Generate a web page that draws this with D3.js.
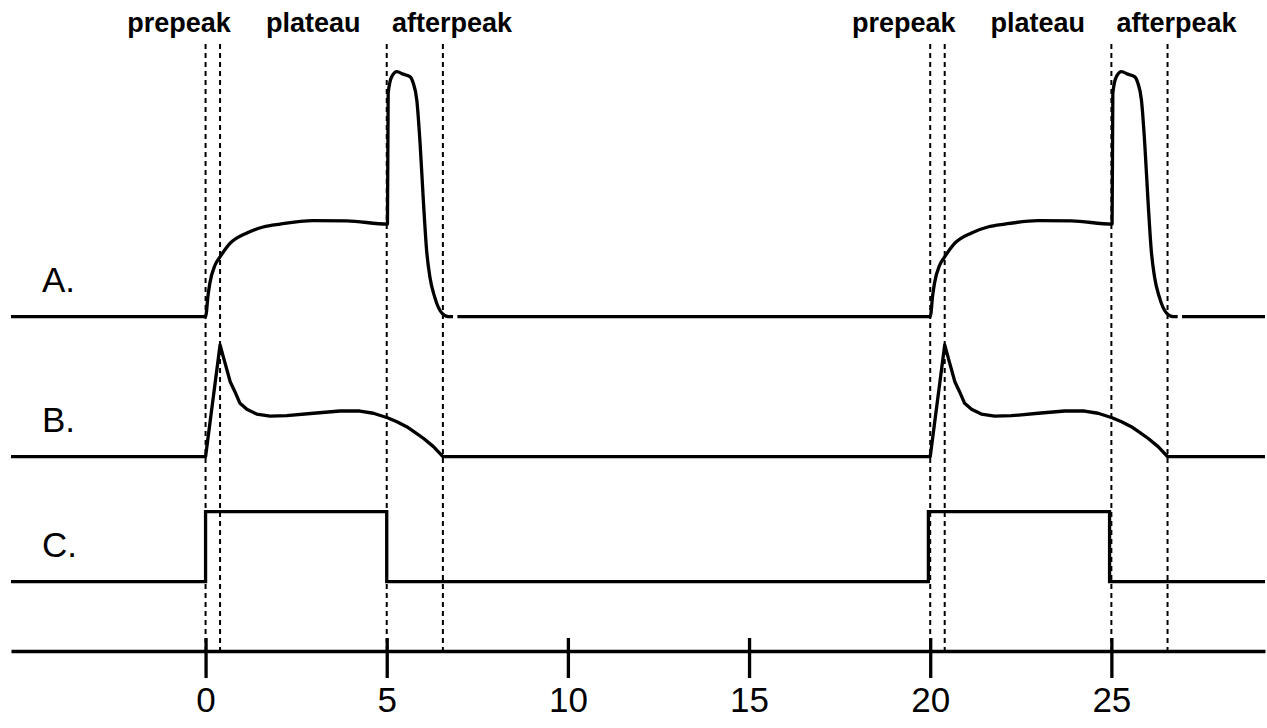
<!DOCTYPE html>
<html>
<head>
<meta charset="utf-8">
<script src="https://cdn.jsdelivr.net/npm/d3@7"></script>
<style>
body { margin: 0; background: #fff; }
text { font-family: "Liberation Sans", Arial, Helvetica, sans-serif; fill: #000; }
</style>
</head>
<body>
<svg id="chart" width="1267" height="728"></svg>
<script>
// time window and axis ticks
var timeDomain = [-5.37, 29.24];
var tickValues = [0, 5, 10, 15, 20, 25];

// each pulse starts at these times
var onsets = [0, 20];

// phase boundaries after onset (dashed lines) and the phase labels
var phaseBounds = [0, 0.4, 5, 6.55];
var phaseNames = ['prepeak', 'plateau', 'afterpeak'];
var phaseLabelAt = [-0.73, 2.97, 6.8];

// trace A after onset: [time, level]; null = small break in the line
var shapeA = [
  [0, 0], [0.07, 0.089], [0.12, 0.138], [0.26, 0.21], [0.4, 0.244],
  [0.68, 0.30], [1.14, 0.342], [1.59, 0.366], [2.06, 0.378], [2.97, 0.392],
  [3.9, 0.391], [5.02, 0.378], [5.04, 0.912], [5.14, 0.98], [5.28, 1.0],
  [5.45, 0.99], [5.64, 0.98], [5.73, 0.954], [5.83, 0.884], [5.92, 0.709],
  [6.01, 0.476], [6.1, 0.272], [6.19, 0.163], [6.32, 0.082], [6.52, 0.015],
  [6.7, 0], [6.83, 0], null, [6.95, 0]
];

// trace B after onset
var shapeB = [
  [0, 0], [0.4, 1.0], [0.54, 0.836], [0.68, 0.671], [0.81, 0.582],
  [0.95, 0.478], [1.14, 0.424], [1.41, 0.382], [1.78, 0.364], [2.24, 0.367],
  [2.98, 0.389], [3.71, 0.409], [4.26, 0.409], [4.63, 0.389], [5.02, 0.349],
  [5.28, 0.313], [5.55, 0.269], [5.78, 0.218], [6.01, 0.165], [6.29, 0.09],
  [6.55, 0]
];

// trace C: on / off edges
var edgesC = [[0, 5], [19.95, 24.95]];

var svg = d3.select('#chart');

var x = d3.scaleLinear().domain(timeDomain).range([11, 1265]);
var yA = d3.scaleLinear().domain([0, 1]).range([316.7, 71.7]);
var yB = d3.scaleLinear().domain([0, 1]).range([456.7, 345]);
var yC = d3.scaleLinear().domain([0, 1]).range([581.7, 511.7]);

// put the shape after every onset, flat in between
function buildSeries(shape) {
  var pts = [[timeDomain[0], 0]];
  onsets.forEach(function(t0) {
    shape.forEach(function(p) {
      pts.push(p ? [t0 + p[0], p[1]] : null);
    });
  });
  pts.push([timeDomain[1], 0]);
  return pts;
}

var seriesC = [[timeDomain[0], 0]];
edgesC.forEach(function(e) {
  seriesC.push([e[0], 0], [e[0], 1], [e[1], 1], [e[1], 0]);
});
seriesC.push([timeDomain[1], 0]);

function lineFor(y, curve) {
  return d3.line()
    .defined(function(d) { return d != null; })
    .x(function(d) { return x(d[0]); })
    .y(function(d) { return y(d[1]); })
    .curve(curve);
}

// dashed phase lines
var bounds = [];
onsets.forEach(function(t0) {
  phaseBounds.forEach(function(b) { bounds.push(t0 + b); });
});
svg.append('g').selectAll('line').data(bounds).enter()
  .append('line')
  .attr('x1', function(d) { return x(d); })
  .attr('x2', function(d) { return x(d); })
  .attr('y1', 44)
  .attr('y2', 651)
  .attr('stroke', '#000')
  .attr('stroke-width', 2)
  .attr('stroke-dasharray', '5,4');

// phase names at top
var labels = [];
onsets.forEach(function(t0) {
  phaseNames.forEach(function(n, i) { labels.push({t: t0 + phaseLabelAt[i], name: n}); });
});
svg.append('g').selectAll('text').data(labels).enter()
  .append('text')
  .attr('x', function(d) { return x(d.t); })
  .attr('y', 32)
  .attr('text-anchor', 'middle')
  .style('font-size', '27px')
  .style('font-weight', 'bold')
  .text(function(d) { return d.name; });

// traces
var traces = [
  {name: 'A.', data: buildSeries(shapeA), y: yA, curve: d3.curveMonotoneX, join: 'round'},
  {name: 'B.', data: buildSeries(shapeB), y: yB, curve: d3.curveLinear, join: 'round'},
  {name: 'C.', data: seriesC, y: yC, curve: d3.curveLinear, join: 'miter'}
];

traces.forEach(function(tr) {
  svg.append('path')
    .datum(tr.data)
    .attr('d', lineFor(tr.y, tr.curve))
    .attr('fill', 'none')
    .attr('stroke', '#000')
    .attr('stroke-width', 3.3)
    .attr('stroke-linejoin', tr.join);
  svg.append('text')
    .attr('x', 42)
    .attr('y', tr.y(0) - 25)
    .style('font-size', '35px')
    .text(tr.name);
});

// time axis, ticks cross the line
var axis = svg.append('g')
  .attr('transform', 'translate(0,651)')
  .call(d3.axisBottom(x).tickValues(tickValues).tickSizeInner(27).tickSizeOuter(0));
axis.select('.domain').attr('stroke', '#000').attr('stroke-width', 3.3);
axis.selectAll('.tick line').attr('y1', -13).attr('stroke', '#000').attr('stroke-width', 3.3);
axis.selectAll('.tick text')
  .attr('y', 61).attr('dy', 0)
  .attr('fill', '#000')
  .style('font-size', '35px')
  .style('font-family', '"Liberation Sans", Arial, Helvetica, sans-serif');
</script>
</body>
</html>
